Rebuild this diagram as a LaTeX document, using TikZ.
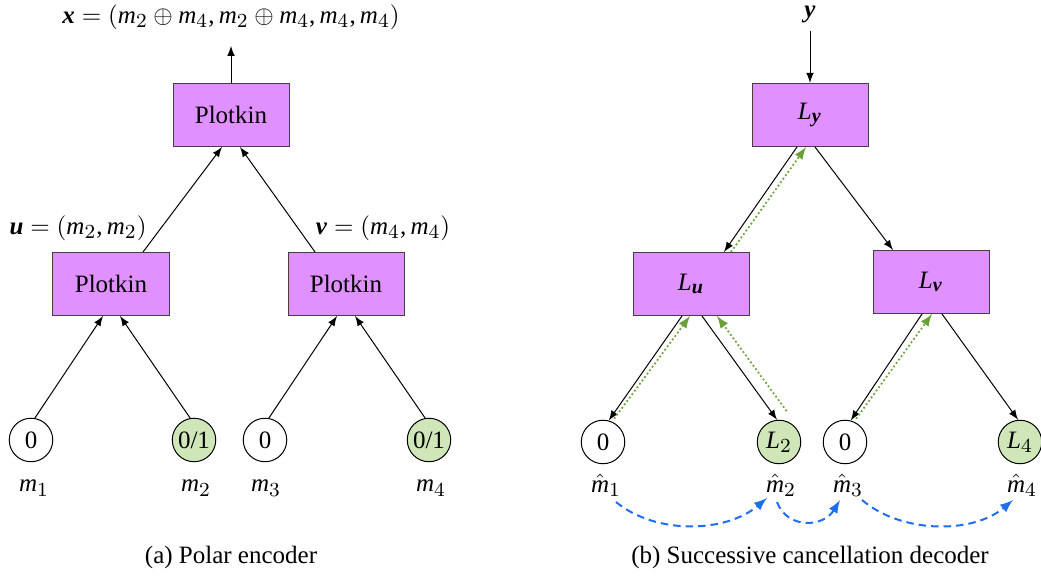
\documentclass[tikz,border=0pt]{standalone}
\usepackage{fontspec}
\setmainfont{Liberation Serif}
\usepackage{amsmath}
\usepackage[italic]{mathastext}
\usepackage{tikz}
\usetikzlibrary{calc}
\definecolor{boxpurple}{RGB}{224,144,255}
\definecolor{leafgreen}{RGB}{206,230,184}
\definecolor{feedgreen}{RGB}{106,160,56}
\definecolor{orderblue}{RGB}{30,110,240}
\newcommand{\bvec}[1]{\textbf{\textit{#1}}}

\begin{document}
\begin{tikzpicture}[x=0.4pt,y=-0.4pt,
  plotkin/.style={draw=black!75,fill=boxpurple,minimum width=46.4pt,minimum height=25.2pt,inner sep=0pt},
  frozen/.style={draw,circle,minimum size=17.4pt,inner sep=0pt,fill=white},
  info/.style={frozen,fill=leafgreen},
  tag/.style={inner sep=1pt},
  feedback/.style={-latex,feedgreen,densely dotted,line width=0.7pt},
  order/.style={-latex,orderblue,densely dashed,line width=0.8pt}]
 \useasboundingbox (0,0) rectangle (1041,577);

 % (a) encoder
 \node (xout) at (231,17) {$\bvec{x} = (m_2 \oplus m_4, m_2 \oplus m_4, m_4, m_4)$};
 \node[plotkin] (pt) at (231,115) {Plotkin};
 \node[plotkin] (pl) at (111,284) {Plotkin};
 \node[plotkin] (pr) at (346,284) {Plotkin};
 \node (uout) at (78,228) {$\bvec{u} = (m_2, m_2)$};
 \node (vout) at (383,228) {$\bvec{v} = (m_4, m_4)$};
 \node[frozen] (a1) at (31,440) {0};
 \node[info] (a2) at (194,440) {0/1};
 \node[frozen] (a3) at (265,440) {0};
 \node[info] (a4) at (429,440) {0/1};
 \node[tag] (m1) at (34,488) {$m_1$};
 \node[tag] (m2) at (196,488) {$m_2$};
 \node[tag] (m3) at (266,488) {$m_3$};
 \node[tag] (m4) at (431,488) {$m_4$};
 \draw[-latex,shorten >=3pt] (pt) -- (xout);
 \draw[-latex] ($(pl.north)+(32,0)$) -- ($(pt.south)+(-9,0)$);
 \draw[-latex] ($(pr.north)+(-31,0)$) -- ($(pt.south)+(9,0)$);
 \draw[-latex] (a1.80) -- ($(pl.south)+(-8,0)$);
 \draw[-latex] (a2.100) -- ($(pl.south)+(9,0)$);
 \draw[-latex] (a3.80) -- ($(pr.south)+(-9,0)$);
 \draw[-latex] (a4.100) -- ($(pr.south)+(9,0)$);
 \node (capa) at (231,557) {(a) Polar encoder};

 % (b) decoder
 \node (yin) at (810,14) {$\bvec{y}$};
 \node[plotkin] (ly) at (810,115) {$L_{\bvec{y}}$};
 \node[plotkin] (lu) at (691,284) {$L_{\bvec{u}}$};
 \node[plotkin] (lv) at (931,282) {$L_{\bvec{v}}$};
 \node[frozen] (b1) at (603,442) {0};
 \node[info] (b2) at (779,442) {$L_2$};
 \node[frozen] (b3) at (845,442) {0};
 \node[info] (b4) at (1020,442) {$L_4$};
 \node[tag] (h1) at (606,485) {$\hat{m}_1$};
 \node[tag] (h2) at (781,485) {$\hat{m}_2$};
 \node[tag] (h3) at (848,485) {$\hat{m}_3$};
 \node[tag] (h4) at (1022,485) {$\hat{m}_4$};
 \draw[-latex] (yin) -- (ly);
 \draw[-latex] ($(ly.south)+(-13,0)$) -- ($(lu.north)+(33,0)$);
 \draw[feedback] ($(lu.north)+(40,0)$) -- ($(ly.south)+(-4,0)$);
 \draw[-latex] ($(ly.south)+(5,0)$) -- ($(lv.north)+(-38,0)$);
 \draw[-latex] ($(lu.south)+(-9,0)$) -- (b1.75);
 \draw[feedback] ($(b1.60)+(0,-4)$) -- ($(lu.south)+(-1,0)$);
 \draw[-latex] ($(lu.south)+(11,0)$) -- (b2.95);
 \draw[feedback] ($(b2.70)+(0,-10)$) -- ($(lu.south)+(26,0)$);
 \draw[-latex] ($(lv.south)+(-9,0)$) -- (b3.75);
 \draw[feedback] ($(b3.60)+(0,-4)$) -- ($(lv.south)+(1,0)$);
 \draw[-latex] ($(lv.south)+(11,0)$) -- (b4.95);
 \draw[order] ($(h1)+(10,17)$) .. controls ($(h1)+(50,50)$) and ($(h2)+(-55,48)$) .. ($(h2)+(-14,13)$);
 \draw[order] ($(h2)+(-4,17)$) .. controls ($(h2)+(6,44)$) and ($(h3)+(-25,43)$) .. ($(h3)+(-8,15)$);
 \draw[order] ($(h3)+(14,15)$) .. controls ($(h3)+(54,49)$) and ($(h4)+(-49,49)$) .. ($(h4)+(-9,15)$);
 \node (capb) at (810,557) {(b) Successive cancellation decoder};

\end{tikzpicture}
\end{document}
